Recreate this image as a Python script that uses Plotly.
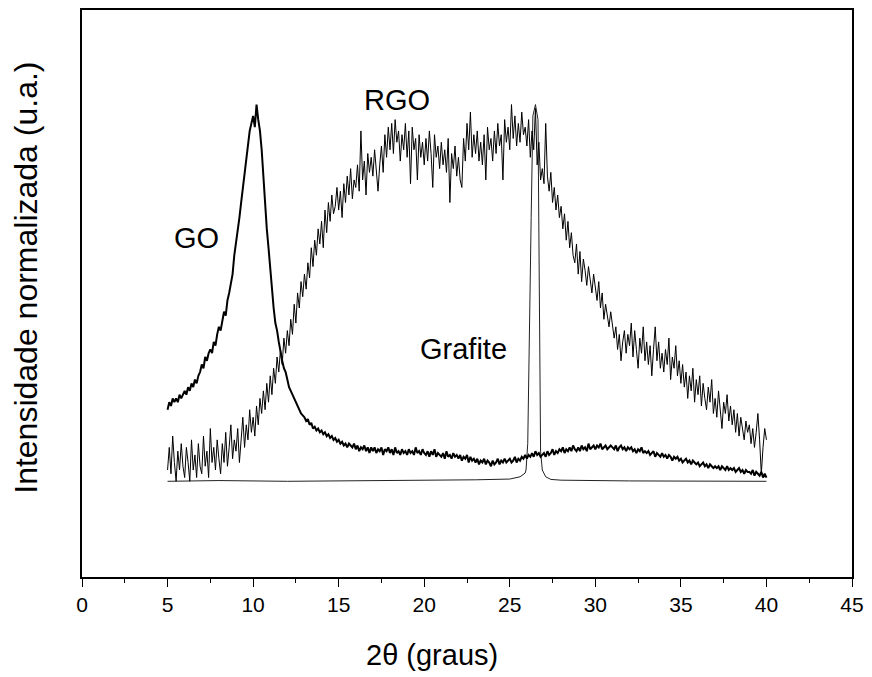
import plotly.graph_objects as go

# ---- data ----
# scan grid for GO and RGO: 2theta from 5.0 to 40.0, step 0.1
scan_start = 5.0
scan_step = 0.1

rgo_intensity = [
    0.03, 0.09, 0.02, 0.12, 0.05, 0.00, 0.08, 0.03, 0.10, 0.04,
    0.01, 0.09, 0.05, 0.00, 0.11, 0.03, 0.07, 0.01, 0.10, 0.04,
    0.02, 0.12, 0.04, 0.08, 0.01, 0.14, 0.05, 0.09, 0.03, 0.11,
    0.06, 0.02, 0.10, 0.05, 0.13, 0.04, 0.09, 0.15, 0.06, 0.11,
    0.08, 0.14, 0.05, 0.12, 0.17, 0.09, 0.15, 0.11, 0.19, 0.13,
    0.17, 0.12, 0.20, 0.15, 0.22, 0.18, 0.24, 0.19, 0.26, 0.21,
    0.28, 0.23, 0.30, 0.26, 0.33, 0.29, 0.35, 0.31, 0.38, 0.34,
    0.40, 0.36, 0.43, 0.39, 0.47, 0.42, 0.50, 0.46, 0.53, 0.49,
    0.55, 0.51, 0.58, 0.54, 0.62, 0.57, 0.64, 0.60, 0.67, 0.63,
    0.69, 0.62, 0.72, 0.66, 0.74, 0.69, 0.76, 0.71, 0.73, 0.78,
    0.72, 0.77, 0.70, 0.79, 0.74, 0.81, 0.76, 0.83, 0.75, 0.80,
    0.78, 0.84, 0.77, 0.93, 0.80, 0.85, 0.76, 0.87, 0.82, 0.86,
    0.81, 0.88, 0.83, 0.77, 0.84, 0.89, 0.82, 0.92, 0.86, 0.94,
    0.88, 0.95, 0.87, 0.96, 0.90, 0.93, 0.85, 0.92, 0.88, 0.95,
    0.86, 0.93, 0.79, 0.94, 0.88, 0.91, 0.80, 0.92, 0.86, 0.90,
    0.84, 0.91, 0.85, 0.93, 0.87, 0.78, 0.92, 0.86, 0.89, 0.83,
    0.90, 0.84, 0.88, 0.82, 0.91, 0.74, 0.87, 0.83, 0.89, 0.81,
    0.86, 0.80, 0.78, 0.91, 0.85, 0.95, 0.88, 0.98, 0.86, 0.92,
    0.87, 0.93, 0.85, 0.90, 0.84, 0.92, 0.80, 0.94, 0.88, 0.91,
    0.85, 0.93, 0.87, 0.95, 0.89, 0.92, 0.80, 0.96, 0.90, 0.94,
    0.88, 1.00, 0.91, 0.97, 0.89, 0.95, 0.90, 0.98, 0.92, 0.94,
    0.89, 0.96, 0.86, 0.93, 0.88, 0.99, 0.84, 0.90, 0.80, 0.83,
    0.79, 0.95, 0.81, 0.77, 0.82, 0.74, 0.78, 0.72, 0.76, 0.70,
    0.73, 0.67, 0.71, 0.64, 0.69, 0.62, 0.66, 0.60, 0.58, 0.63,
    0.55, 0.61, 0.53, 0.59, 0.56, 0.52, 0.57, 0.54, 0.50, 0.55,
    0.51, 0.48, 0.53, 0.46, 0.50, 0.43, 0.47, 0.44, 0.41, 0.45,
    0.42, 0.38, 0.41, 0.35, 0.39, 0.32, 0.37, 0.40, 0.34, 0.39,
    0.36, 0.42, 0.33, 0.40, 0.35, 0.30, 0.38, 0.34, 0.41, 0.32,
    0.37, 0.31, 0.36, 0.28, 0.35, 0.41, 0.32, 0.37, 0.30, 0.34,
    0.29, 0.35, 0.31, 0.38, 0.27, 0.33, 0.30, 0.36, 0.28, 0.32,
    0.26, 0.31, 0.25, 0.29, 0.22, 0.28, 0.24, 0.30, 0.21, 0.27,
    0.23, 0.28, 0.20, 0.26, 0.22, 0.19, 0.25, 0.21, 0.27, 0.18,
    0.22, 0.17, 0.24, 0.19, 0.14, 0.21, 0.18, 0.23, 0.16, 0.20,
    0.15, 0.19, 0.13, 0.18, 0.12, 0.17, 0.14, 0.11, 0.16, 0.13,
    0.15, 0.10, 0.14, 0.09, 0.13, 0.18, 0.11, 0.02, 0.09, 0.14,
    0.11,
]

go_intensity = [
    0.19, 0.21, 0.20, 0.22, 0.21, 0.22, 0.21, 0.23, 0.22, 0.23,
    0.24, 0.23, 0.25, 0.24, 0.26, 0.25, 0.27, 0.26, 0.28, 0.29,
    0.31, 0.30, 0.33, 0.32, 0.34, 0.35, 0.34, 0.37, 0.36, 0.39,
    0.41, 0.40, 0.43, 0.45, 0.44, 0.48, 0.50, 0.53, 0.55, 0.60,
    0.63, 0.67, 0.70, 0.74, 0.78, 0.82, 0.85, 0.89, 0.93, 0.95,
    0.97, 0.94, 1.00, 0.96, 0.93, 0.88, 0.80, 0.73, 0.67, 0.62,
    0.56, 0.51, 0.46, 0.42, 0.40, 0.37, 0.34, 0.32, 0.30, 0.29,
    0.27, 0.25, 0.24, 0.23, 0.22, 0.21, 0.20, 0.19, 0.18, 0.175,
    0.17, 0.16, 0.165, 0.15, 0.155, 0.14, 0.145, 0.135, 0.14, 0.13,
    0.135, 0.125, 0.13, 0.12, 0.125, 0.115, 0.12, 0.11, 0.115, 0.105,
    0.11, 0.10, 0.105, 0.095, 0.10, 0.09, 0.10, 0.095, 0.09, 0.10,
    0.085, 0.095, 0.08, 0.09, 0.085, 0.095, 0.08, 0.09, 0.075, 0.09,
    0.08, 0.09, 0.075, 0.085, 0.08, 0.09, 0.07, 0.085, 0.08, 0.09,
    0.075, 0.085, 0.07, 0.09, 0.075, 0.08, 0.07, 0.085, 0.075, 0.08,
    0.07, 0.085, 0.075, 0.08, 0.07, 0.09, 0.075, 0.08, 0.07, 0.085,
    0.075, 0.07, 0.08, 0.065, 0.08, 0.07, 0.085, 0.065, 0.075, 0.07,
    0.065, 0.075, 0.06, 0.08, 0.065, 0.07, 0.06, 0.075, 0.065, 0.07,
    0.06, 0.07, 0.055, 0.065, 0.06, 0.07, 0.05, 0.065, 0.055, 0.06,
    0.05, 0.06, 0.045, 0.055, 0.05, 0.06, 0.045, 0.055, 0.05, 0.04,
    0.055, 0.045, 0.05, 0.06, 0.045, 0.055, 0.05, 0.06, 0.05, 0.055,
    0.06, 0.05, 0.055, 0.065, 0.05, 0.06, 0.055, 0.065, 0.06, 0.07,
    0.06, 0.07, 0.065, 0.075, 0.065, 0.08, 0.07, 0.075, 0.065, 0.07,
    0.075, 0.065, 0.08, 0.07, 0.075, 0.085, 0.07, 0.08, 0.075, 0.085,
    0.08, 0.09, 0.075, 0.085, 0.08, 0.09, 0.08, 0.095, 0.085, 0.08,
    0.09, 0.08, 0.095, 0.085, 0.09, 0.08, 0.10, 0.085, 0.09, 0.095,
    0.085, 0.095, 0.09, 0.10, 0.085, 0.09, 0.095, 0.085, 0.09, 0.095,
    0.09, 0.085, 0.095, 0.08, 0.09, 0.095, 0.085, 0.09, 0.08, 0.09,
    0.085, 0.09, 0.08, 0.085, 0.075, 0.085, 0.08, 0.09, 0.075, 0.08,
    0.075, 0.08, 0.07, 0.075, 0.08, 0.065, 0.075, 0.07, 0.065, 0.075,
    0.065, 0.07, 0.06, 0.07, 0.065, 0.055, 0.065, 0.06, 0.065, 0.055,
    0.06, 0.05, 0.055, 0.06, 0.05, 0.055, 0.045, 0.055, 0.05, 0.045,
    0.05, 0.04, 0.045, 0.05, 0.04, 0.045, 0.035, 0.045, 0.04, 0.035,
    0.04, 0.035, 0.04, 0.03, 0.04, 0.035, 0.03, 0.04, 0.03, 0.035,
    0.03, 0.035, 0.025, 0.03, 0.035, 0.025, 0.03, 0.02, 0.03, 0.025,
    0.025, 0.02, 0.03, 0.015, 0.025, 0.02, 0.015, 0.025, 0.01, 0.02,
    0.01,
]

grafite_2theta = [5, 8, 12, 16, 20, 23, 25, 25.6, 25.9, 25.95, 26.05, 26.15,
                  26.25, 26.35, 26.5, 26.65, 26.72, 26.8, 26.9, 27.1, 27.4,
                  28, 32, 36, 40]
grafite_intensity = [0.0, 0.002, 0.0, 0.001, 0.003, 0.004, 0.006, 0.012, 0.022,
                     0.03, 0.1, 0.35, 0.7, 0.97, 1.0, 0.96, 0.5, 0.08, 0.03,
                     0.012, 0.005, 0.003, 0.001, 0.0, 0.0]

x_ticks = [0, 5, 10, 15, 20, 25, 30, 35, 40, 45]

labels = {"GO": (6.7, 0.645), "RGO": (18.4, 1.013), "Grafite": (22.3, 0.35)}

x_title = "2θ (graus)"
y_title = "Intensidade normalizada (u.a.)"

scan_2theta = [round(scan_start + scan_step * i, 2) for i in range(len(rgo_intensity))]

FONT = "Liberation Sans, Arial, sans-serif"

fig = go.Figure()
fig.add_trace(go.Scatter(x=grafite_2theta, y=grafite_intensity, mode="lines",
                         line=dict(color="#222222", width=1), name="Grafite",
                         showlegend=False))
fig.add_trace(go.Scatter(x=scan_2theta, y=rgo_intensity, mode="lines",
                         line=dict(color="#000000", width=1), name="RGO",
                         showlegend=False))
fig.add_trace(go.Scatter(x=scan_2theta, y=go_intensity, mode="lines",
                         line=dict(color="#000000", width=2), name="GO",
                         showlegend=False))

for txt, (lx, ly) in labels.items():
    fig.add_annotation(x=lx, y=ly, text=txt, showarrow=False,
                       font=dict(family=FONT, size=29, color="black"))

# axis titles (placed as in the original, slightly off-centre)
fig.add_annotation(xref="paper", yref="paper", x=0.455, y=-0.137,
                   text=x_title, showarrow=False, xanchor="center", yanchor="middle",
                   font=dict(family=FONT, size=29, color="black"))
fig.add_annotation(xref="paper", yref="paper", x=-0.072, y=0.527,
                   text=y_title, showarrow=False, textangle=-90,
                   xanchor="center", yanchor="middle",
                   font=dict(family=FONT, size=32, color="black"))

fig.update_layout(
    width=872, height=677,
    margin=dict(l=82, r=17, t=8, b=100),
    paper_bgcolor="white", plot_bgcolor="white",
    font=dict(family=FONT, color="black"),
)
fig.update_xaxes(
    range=[0, 45], tickvals=x_ticks, ticktext=[str(t) for t in x_ticks],
    ticks="outside", ticklen=8, tickwidth=1.3, tickcolor="black",
    tickfont=dict(size=21, family=FONT, color="black"),
    minor=dict(ticks="outside", ticklen=4, tickwidth=1.3, tickcolor="black", dtick=2.5, tick0=0),
    showline=True, linecolor="black", linewidth=1.5, mirror=True,
    showgrid=False, zeroline=False,
)
fig.update_yaxes(
    range=[-0.254, 1.251], showticklabels=False, ticks="",
    showline=True, linecolor="black", linewidth=1.5, mirror=True,
    showgrid=False, zeroline=False,
)

fig.write_html("out.html", config={"displayModeBar": False},
               post_script="document.body.style.margin='0';")
